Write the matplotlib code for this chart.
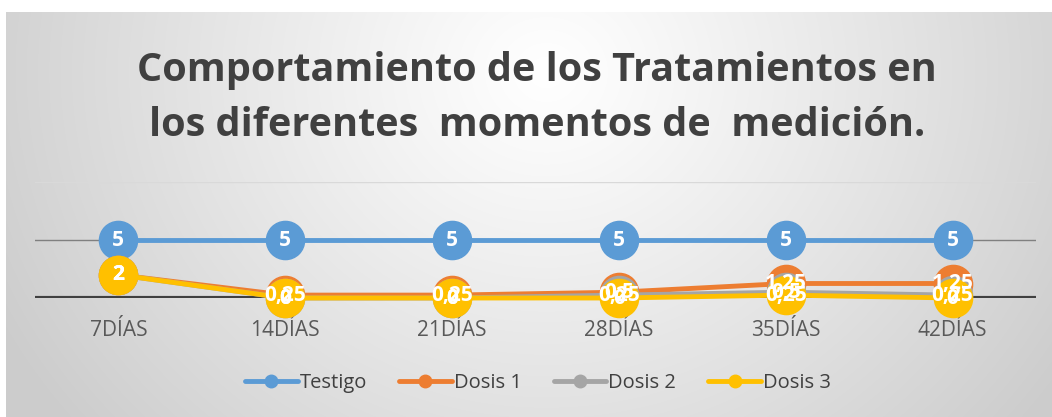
import numpy as np
import matplotlib
matplotlib.use("Agg")
import matplotlib.pyplot as plt

# data
dias = ["7DÍAS", "14DÍAS", "21DÍAS", "28DÍAS", "35DÍAS", "42DÍAS"]
testigo = [5, 5, 5, 5, 5, 5]
dosis_1 = [2, 0.25, 0.25, 0.5, 1.25, 1.25]
dosis_2 = [2, 0, 0, 0.25, 0.5, 0.25]
dosis_3 = [2, 0, 0, 0, 0.25, 0]

series = [("Testigo", testigo, "#5b9bd5"),
          ("Dosis 1", dosis_1, "#ed7d31"),
          ("Dosis 2", dosis_2, "#a5a5a5"),
          ("Dosis 3", dosis_3, "#ffc000")]

FONT = "Open Sans"
W, H = 1052, 417


def fmt(v):
    s = f"{v:g}"
    return s.replace(".", ",")


fig = plt.figure(figsize=(W / 100, H / 100), dpi=100)
fig.patch.set_facecolor("white")

# radial gradient background of the chart area
bg = fig.add_axes([6 / W, 0, 1 - 6 / W, 1 - 12 / H])
bg.set_axis_off()
yy, xx = np.mgrid[0:405, 0:1046]
d = np.sqrt(((xx - 540) / 620) ** 2 + ((yy - 60) / 560) ** 2)
t = np.clip(d, 0, 1) ** 1.1
g = 1 - (1 - 0.80) * t
bg.imshow(np.dstack([g, g, g]), aspect="auto", interpolation="bilinear")

fig.text(537 / W, 1 - 70 / H, "Comportamiento de los Tratamientos en",
         ha="center", va="center", fontsize=28.5, fontweight="bold",
         color="#404040", family=FONT)
fig.text(537 / W, 1 - 125 / H, "los diferentes  momentos de  medición.",
         ha="center", va="center", fontsize=28.5, fontweight="bold",
         color="#404040", family=FONT)

ax = fig.add_axes([35 / W, 1 - 298 / H, 1001 / W, 116 / H])
ax.patch.set_alpha(0)
x = np.arange(len(dias))
ax.set_xlim(-0.5, len(dias) - 0.5)
ax.set_ylim(0, 10)

ax.axhline(10, color="#d9d9d9", lw=1, zorder=0)
ax.axhline(5, color="#808080", lw=1, zorder=0)
ax.axhline(0, color="#404040", lw=3, zorder=0.5)

for i, (name, vals, col) in enumerate(series):
    ax.plot(x, vals, color=col, lw=3.5, marker="o", markersize=27.5,
            markeredgecolor=col, label=name, zorder=2 + i, clip_on=False)

for name, vals, col in series:
    for xi, v in zip(x, vals):
        ax.text(xi, v, fmt(v), ha="center", va="center", color="white",
                fontsize=15, fontweight="bold", family=FONT, zorder=10,
                clip_on=False)

for s in ax.spines.values():
    s.set_visible(False)
ax.set_yticks([])
ax.set_xticks(x)
ax.set_xticklabels(dias, fontsize=15, color="#595959", family=FONT)
ax.tick_params(axis="x", length=0, pad=16)

labels = [name for name, _, _ in series]
leg_handles = [plt.Line2D([], [], color=c, lw=3.5, marker="o", markersize=9,
                          solid_capstyle="round") for _, _, c in series]
fig.legend(leg_handles, labels, loc="center", bbox_to_anchor=(538 / W, 1 - 383 / H),
           ncol=4, frameon=False, handlelength=2.6, columnspacing=1.6,
           handletextpad=0.1, prop={"family": FONT, "size": 14.5},
           labelcolor="#404040")

fig.savefig("out.png", dpi=100)
